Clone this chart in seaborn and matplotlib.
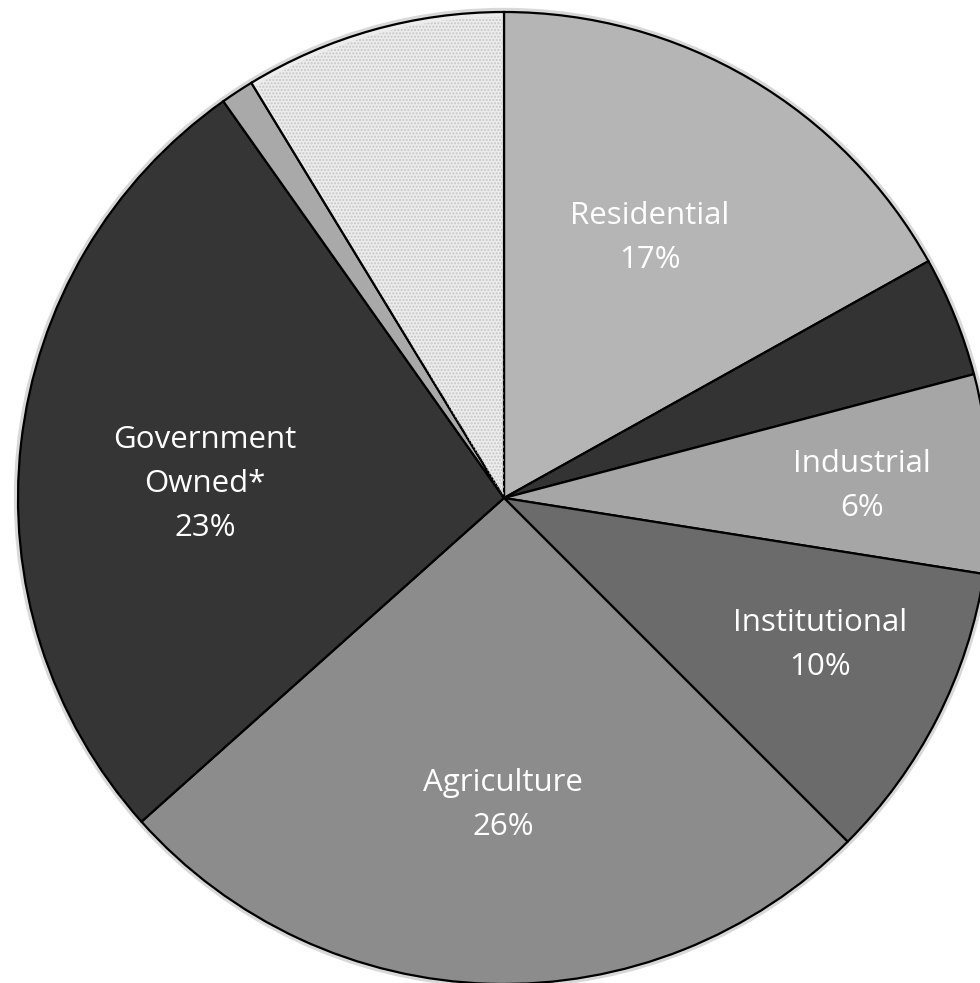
import matplotlib
matplotlib.use('Agg')
import matplotlib.pyplot as plt
from matplotlib.patches import Wedge, Circle
import seaborn as sns

# slice sizes (clockwise from 12 o'clock)
categories = ['Residential', '', 'Industrial', 'Institutional', 'Agriculture',
              'Government\nOwned*', '', '']
sizes = [16.9, 4.0, 6.6, 10.0, 25.9, 26.8, 1.1, 8.7]
pct_labels = ['17%', '', '6%', '10%', '26%', '23%', '', '']
colors = ['#b5b5b5', '#333333', '#a6a6a6', '#6b6b6b', '#8c8c8c',
          '#353535', '#a9a9a9', '#ececec']

sns.set_style('white')
plt.rcParams['font.family'] = ['Open Sans', 'DejaVu Sans']

W, H = 980, 983
cx, cy, R = 504, 498, 486

fig = plt.figure(figsize=(W / 100, H / 100), dpi=100)
ax = fig.add_axes([0, 0, 1, 1])

# soft halo around the pie
ax.add_patch(Circle((0, 0), 1.0, facecolor='none', edgecolor='#d8d8d8',
                    linewidth=6, zorder=0))

wedges, _ = ax.pie(sizes, colors=colors, startangle=90, counterclock=False,
                   radius=1.0,
                   wedgeprops=dict(edgecolor='black', linewidth=1.6))

# speckled texture on the last slice
w = wedges[-1]
ax.add_patch(Wedge((0, 0), 0.99, w.theta1 + 0.3, w.theta2 - 0.3,
                   facecolor='none', edgecolor='#c6c6c6', hatch='.....',
                   linewidth=0, zorder=3))

# label positions in pixels of the reference
label_px = [(650, 238), None, (862, 486), (820, 645), (503, 805),
            (205, 484), None, None]
for name, pct, pos in zip(categories, pct_labels, label_px):
    if pos is None:
        continue
    x = (pos[0] - cx) / R
    y = (cy - pos[1]) / R
    ax.text(x, y, f'{name}\n{pct}', ha='center', va='center', color='white',
            fontsize=22.5, linespacing=1.6, zorder=5)

ax.set_xlim(-cx / R, (W - cx) / R)
ax.set_ylim(-(H - cy) / R, cy / R)
ax.set_aspect('auto')
ax.axis('off')

fig.savefig('out.png', dpi=100)
